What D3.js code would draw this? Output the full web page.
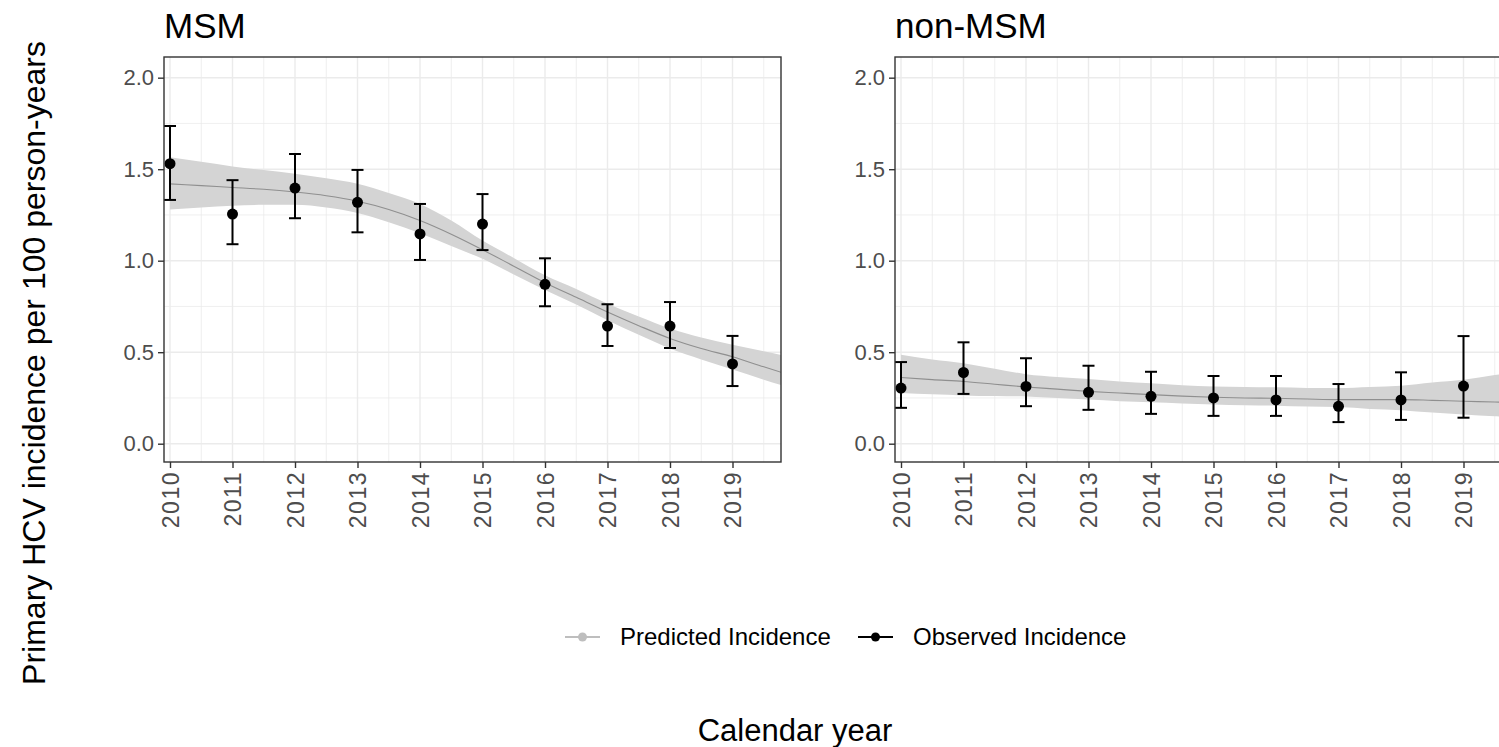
<!DOCTYPE html>
<html lang="en">
<head>
  <meta charset="UTF-8">
  <title>Primary HCV incidence</title>
  <script src="https://d3js.org/d3.v7.min.js"></script>
  <style>
    body {
      margin: 0;
      background: #ffffff;
      font-family: 'Liberation Sans', Arial, sans-serif;
    }
    svg {
      display: block;
    }
  </style>
</head>
<body>
  <svg id="chart" width="1499" height="747"></svg>

  <script>
    // observed yearly incidence with 95% CI
    const years = [2010, 2011, 2012, 2013, 2014, 2015, 2016, 2017, 2018, 2019];

    const msmObs   = [1.53, 1.255, 1.397, 1.319, 1.146, 1.20, 0.871, 0.643, 0.643, 0.436];
    const msmObsLo = [1.332, 1.09, 1.232, 1.155, 1.004, 1.058, 0.751, 0.534, 0.523, 0.315];
    const msmObsHi = [1.736, 1.44, 1.583, 1.496, 1.31, 1.364, 1.013, 0.762, 0.774, 0.589];

    const nonObs   = [0.304, 0.389, 0.313, 0.281, 0.259, 0.25, 0.239, 0.204, 0.239, 0.315];
    const nonObsLo = [0.196, 0.272, 0.205, 0.185, 0.163, 0.152, 0.152, 0.118, 0.13, 0.142];
    const nonObsHi = [0.446, 0.554, 0.467, 0.426, 0.393, 0.37, 0.37, 0.326, 0.39, 0.588];

    // predicted incidence (model fit) with confidence band
    const predTime = [2010, 2010.5, 2011, 2011.5, 2012, 2012.5, 2013, 2013.5, 2014, 2014.5,
                      2015, 2015.5, 2016, 2016.5, 2017, 2017.5, 2018, 2018.5, 2019, 2019.5, 2019.78];

    const msmPred   = [1.42, 1.41, 1.40, 1.39, 1.375, 1.355, 1.325, 1.28, 1.22, 1.145,
                       1.06, 0.97, 0.88, 0.80, 0.72, 0.645, 0.575, 0.52, 0.475, 0.42, 0.39];
    const msmPredLo = [1.28, 1.29, 1.30, 1.305, 1.305, 1.29, 1.26, 1.21, 1.15, 1.08,
                       1.01, 0.925, 0.84, 0.76, 0.675, 0.595, 0.52, 0.46, 0.405, 0.35, 0.32];
    const msmPredHi = [1.565, 1.54, 1.515, 1.495, 1.475, 1.45, 1.42, 1.37, 1.31, 1.22,
                       1.11, 1.015, 0.92, 0.845, 0.765, 0.695, 0.63, 0.58, 0.54, 0.505, 0.485];

    const nonPred   = [0.362, 0.35, 0.34, 0.325, 0.31, 0.298, 0.286, 0.277, 0.268, 0.26,
                       0.254, 0.25, 0.248, 0.244, 0.241, 0.241, 0.241, 0.237, 0.232, 0.228, 0.225];
    const nonPredLo = [0.277, 0.27, 0.264, 0.26, 0.258, 0.25, 0.241, 0.232, 0.226, 0.22,
                       0.214, 0.21, 0.208, 0.203, 0.2, 0.19, 0.183, 0.17, 0.159, 0.15, 0.146];
    const nonPredHi = [0.486, 0.46, 0.44, 0.41, 0.38, 0.365, 0.353, 0.34, 0.33, 0.32,
                       0.313, 0.31, 0.308, 0.305, 0.304, 0.31, 0.317, 0.335, 0.35, 0.375, 0.39];

    const yTicks = [0, 0.5, 1.0, 1.5, 2.0];
    const yMinor = [0.25, 0.75, 1.25, 1.75];
    const xMinor = [2010.5, 2011.5, 2012.5, 2013.5, 2014.5, 2015.5, 2016.5, 2017.5, 2018.5, 2019.5];

    const panels = [
      { title: "MSM", left: 164, obs: msmObs, lo: msmObsLo, hi: msmObsHi,
        pred: msmPred, predLo: msmPredLo, predHi: msmPredHi },
      { title: "non-MSM", left: 895, obs: nonObs, lo: nonObsLo, hi: nonObsHi,
        pred: nonPred, predLo: nonPredLo, predHi: nonPredHi }
    ];

    const svg = d3.select("#chart");
    const font = "'Liberation Sans', Arial, sans-serif";
    const panelTop = 57, pw = 617, ph = 405;

    const x = d3.scaleLinear().domain([2009.904, 2019.776]).range([0, pw]);
    const y = d3.scaleLinear().domain([-0.1, 2.113]).range([ph, 0]);

    svg.append("rect").attr("width", 1499).attr("height", 747).attr("fill", "#fff");

    svg.append("clipPath").attr("id", "panelClip")
      .append("rect").attr("width", pw).attr("height", ph);

    panels.forEach(p => {
      const g = svg.append("g").attr("transform", `translate(${p.left},${panelTop})`);

      // grid
      const grid = g.append("g").attr("stroke", "#ebebeb");
      grid.selectAll(".ymin").data(yMinor).join("line")
        .attr("x1", 0).attr("x2", pw).attr("y1", d => y(d)).attr("y2", d => y(d))
        .attr("stroke-width", 0.8);
      grid.selectAll(".xmin").data(xMinor).join("line")
        .attr("y1", 0).attr("y2", ph).attr("x1", d => x(d)).attr("x2", d => x(d))
        .attr("stroke-width", 0.8);
      grid.selectAll(".ymaj").data(yTicks).join("line")
        .attr("x1", 0).attr("x2", pw).attr("y1", d => y(d)).attr("y2", d => y(d))
        .attr("stroke-width", 1.4);
      grid.selectAll(".xmaj").data(years).join("line")
        .attr("y1", 0).attr("y2", ph).attr("x1", d => x(d)).attr("x2", d => x(d))
        .attr("stroke-width", 1.4);

      const plot = g.append("g").attr("clip-path", "url(#panelClip)");

      const predData = predTime.map((t, i) => ({ t, v: p.pred[i], lo: p.predLo[i], hi: p.predHi[i] }));

      plot.append("path")
        .datum(predData)
        .attr("fill", "#d4d4d4")
        .attr("d", d3.area().curve(d3.curveMonotoneX)
          .x(d => x(d.t)).y0(d => y(d.lo)).y1(d => y(d.hi)));

      plot.append("path")
        .datum(predData)
        .attr("fill", "none")
        .attr("stroke", "#8f8f8f")
        .attr("stroke-width", 1.1)
        .attr("d", d3.line().curve(d3.curveMonotoneX).x(d => x(d.t)).y(d => y(d.v)));

      // observed points with error bars
      const obsData = years.map((yr, i) => ({ yr, v: p.obs[i], lo: p.lo[i], hi: p.hi[i] }));
      const eb = plot.append("g").attr("stroke", "#000").attr("stroke-width", 2)
        .selectAll("g").data(obsData).join("g");
      eb.append("line")
        .attr("x1", d => x(d.yr)).attr("x2", d => x(d.yr))
        .attr("y1", d => y(d.lo)).attr("y2", d => y(d.hi));
      eb.append("line")
        .attr("x1", d => x(d.yr) - 6).attr("x2", d => x(d.yr) + 6)
        .attr("y1", d => y(d.lo)).attr("y2", d => y(d.lo));
      eb.append("line")
        .attr("x1", d => x(d.yr) - 6).attr("x2", d => x(d.yr) + 6)
        .attr("y1", d => y(d.hi)).attr("y2", d => y(d.hi));

      plot.append("g").selectAll("circle").data(obsData).join("circle")
        .attr("cx", d => x(d.yr)).attr("cy", d => y(d.v))
        .attr("r", 5.5).attr("fill", "#000");

      // panel border
      g.append("rect")
        .attr("width", pw).attr("height", ph)
        .attr("fill", "none").attr("stroke", "#333").attr("stroke-width", 1.4);

      // axes
      const yAxis = g.append("g")
        .call(d3.axisLeft(y).tickValues(yTicks).tickFormat(d3.format(".1f")).tickSize(6).tickPadding(4));
      const xAxis = g.append("g").attr("transform", `translate(0,${ph})`)
        .call(d3.axisBottom(x).tickValues(years).tickFormat(d3.format("d")).tickSize(6).tickPadding(4));

      [yAxis, xAxis].forEach(a => {
        a.select(".domain").remove();
        a.selectAll(".tick line").attr("stroke", "#333").attr("stroke-width", 1.4);
        a.selectAll("text")
          .attr("fill", "#4d4d4d")
          .style("font-family", font)
          .style("font-size", "22px");
      });

      xAxis.selectAll("text")
        .attr("transform", "rotate(-90)")
        .attr("text-anchor", "end")
        .attr("x", -9)
        .attr("y", 0)
        .attr("dy", "0.35em")
        .style("font-size", "23px")
        .style("letter-spacing", "1.5px");

      g.append("text")
        .attr("x", 0).attr("y", -19)
        .style("font-family", font)
        .style("font-size", "35px")
        .attr("fill", "#000")
        .text(p.title);
    });

    // axis titles
    svg.append("text")
      .attr("transform", "translate(45,363) rotate(-90)")
      .attr("text-anchor", "middle")
      .style("font-family", font)
      .style("font-size", "32px")
      .text("Primary HCV incidence per 100 person-years");

    svg.append("text")
      .attr("x", 795).attr("y", 741)
      .attr("text-anchor", "middle")
      .style("font-family", font)
      .style("font-size", "31px")
      .text("Calendar year");

    // legend
    const legendItems = [
      { label: "Predicted Incidence", color: "#bebebe", x: 565 },
      { label: "Observed Incidence", color: "#000", x: 858 }
    ];
    const lg = svg.append("g").attr("transform", "translate(0,637)");
    const li = lg.selectAll("g").data(legendItems).join("g")
      .attr("transform", d => `translate(${d.x},0)`);
    li.append("line").attr("x1", 0).attr("x2", 35).attr("y1", 0).attr("y2", 0)
      .attr("stroke", d => d.color).attr("stroke-width", 2);
    li.append("circle").attr("cx", 17.5).attr("cy", 0).attr("r", 4.5).attr("fill", d => d.color);
    li.append("text").attr("x", 55).attr("y", 0).attr("dy", "0.35em")
      .style("font-family", font)
      .style("font-size", "24px")
      .attr("fill", "#000")
      .text(d => d.label);
  </script>
</body>
</html>
